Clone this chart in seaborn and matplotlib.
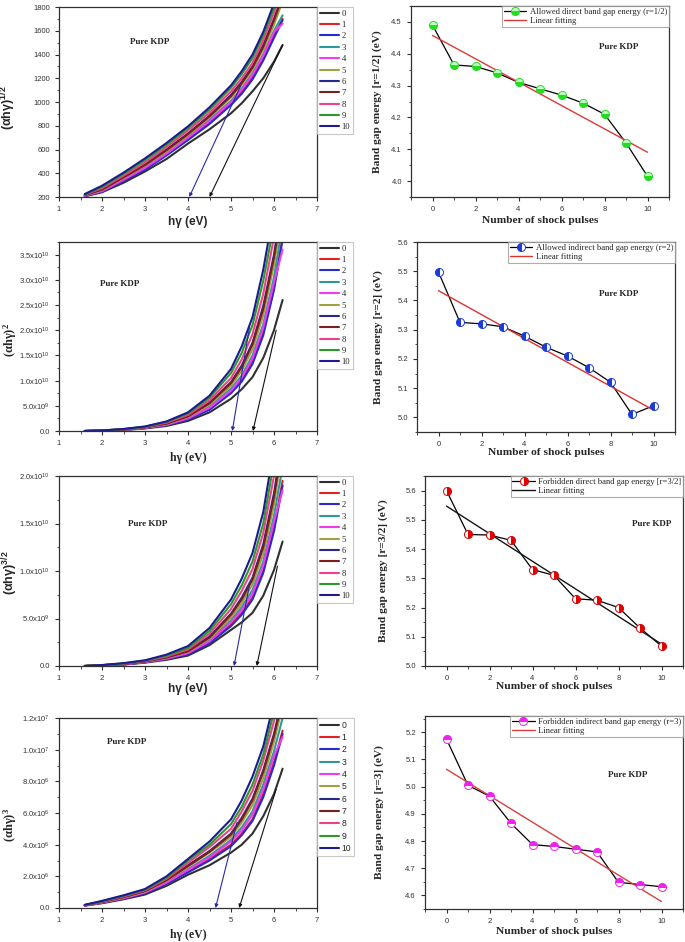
import numpy as np
import pandas as pd
import matplotlib
matplotlib.use("Agg")
import matplotlib.pyplot as plt
import seaborn as sns
from matplotlib.lines import Line2D
from matplotlib.ticker import MultipleLocator, FuncFormatter

sns.set_style("ticks")
plt.rcParams["font.family"] = ["Liberation Sans", "DejaVu Sans"]
plt.rcParams["mathtext.default"] = "regular"

SERIF = ["Liberation Serif", "DejaVu Serif"]
SANS = ["Liberation Sans", "DejaVu Sans"]

# ---------------- data: Tauc curves (left column) ----------------
hv = [1.6, 2.0, 2.5, 3.0, 3.5, 4.0, 4.5, 5.0, 5.25, 5.5, 5.75, 6.0, 6.2]
pulses = list(range(11))
curve_colors = ["#303030", "#e02424", "#2a2ad0", "#2a9a9a", "#f03cf0", "#a0a040",
                "#28288a", "#7a1e1e", "#f0408a", "#2a9a2a", "#1c1c90"]

# (alpha h nu)^(1/2)
curves_half = [
    [205, 240, 320, 415, 520, 650, 770, 905, 990, 1090, 1200, 1340, 1480],
    [210, 250, 340, 440, 560, 690, 830, 990, 1090, 1210, 1370, 1560, 1700],
    [208, 245, 335, 430, 550, 680, 815, 975, 1070, 1190, 1350, 1540, 1690],
    [212, 255, 350, 450, 570, 705, 850, 1010, 1115, 1240, 1400, 1600, 1730],
    [210, 250, 345, 445, 565, 700, 840, 1000, 1105, 1230, 1390, 1590, 1660],
    [215, 260, 360, 465, 585, 720, 870, 1040, 1145, 1270, 1440, 1650, 1850],
    [218, 265, 370, 475, 600, 735, 885, 1060, 1170, 1300, 1480, 1700, 1900],
    [216, 263, 365, 470, 595, 730, 880, 1050, 1160, 1290, 1465, 1690, 1890],
    [220, 275, 380, 490, 620, 760, 910, 1090, 1200, 1330, 1520, 1750, 1950],
    [222, 285, 395, 510, 640, 780, 935, 1120, 1235, 1370, 1560, 1790, 2000],
    [225, 295, 405, 525, 655, 795, 955, 1140, 1260, 1400, 1590, 1830, 2050],
]
# (alpha h nu)^2  (units 1e10)
curves_sq = [
    [0, 0.005, 0.02, 0.05, 0.10, 0.20, 0.37, 0.64, 0.83, 1.07, 1.45, 2.00, 2.60],
    [0, 0.006, 0.025, 0.06, 0.12, 0.24, 0.44, 0.78, 1.02, 1.38, 1.95, 2.85, 3.85],
    [0, 0.006, 0.024, 0.06, 0.12, 0.23, 0.42, 0.75, 0.98, 1.33, 1.90, 2.80, 3.80],
    [0, 0.007, 0.028, 0.065, 0.13, 0.26, 0.48, 0.84, 1.10, 1.50, 2.12, 3.05, 4.10],
    [0, 0.006, 0.026, 0.062, 0.125, 0.25, 0.46, 0.80, 1.06, 1.44, 2.05, 2.95, 3.60],
    [0, 0.007, 0.03, 0.07, 0.14, 0.28, 0.52, 0.90, 1.20, 1.62, 2.30, 3.30, 4.40],
    [0, 0.008, 0.032, 0.075, 0.15, 0.30, 0.56, 0.97, 1.30, 1.75, 2.48, 3.50, 4.60],
    [0, 0.008, 0.031, 0.073, 0.148, 0.29, 0.55, 0.95, 1.27, 1.72, 2.42, 3.45, 4.50],
    [0, 0.009, 0.035, 0.08, 0.165, 0.32, 0.61, 1.05, 1.42, 1.92, 2.72, 3.85, 5.00],
    [0, 0.01, 0.038, 0.085, 0.18, 0.35, 0.66, 1.15, 1.55, 2.10, 2.98, 4.10, 5.20],
    [0, 0.01, 0.04, 0.09, 0.19, 0.37, 0.70, 1.23, 1.68, 2.26, 3.20, 4.40, 5.50],
]
# (alpha h nu)^(3/2)  (units 1e10)
curves_3half = [
    [0, 0.005, 0.015, 0.035, 0.065, 0.11, 0.22, 0.38, 0.46, 0.56, 0.74, 1.01, 1.31],
    [0, 0.006, 0.018, 0.04, 0.075, 0.13, 0.25, 0.44, 0.56, 0.72, 1.00, 1.45, 1.95],
    [0, 0.006, 0.017, 0.039, 0.073, 0.125, 0.24, 0.42, 0.54, 0.70, 0.98, 1.42, 1.90],
    [0, 0.007, 0.02, 0.045, 0.082, 0.14, 0.27, 0.48, 0.62, 0.80, 1.10, 1.58, 2.10],
    [0, 0.006, 0.019, 0.042, 0.078, 0.135, 0.26, 0.46, 0.59, 0.76, 1.06, 1.52, 1.85],
    [0, 0.007, 0.021, 0.048, 0.088, 0.15, 0.29, 0.51, 0.66, 0.86, 1.18, 1.70, 2.30],
    [0, 0.008, 0.023, 0.05, 0.093, 0.16, 0.31, 0.55, 0.72, 0.93, 1.28, 1.82, 2.40],
    [0, 0.008, 0.022, 0.049, 0.09, 0.155, 0.30, 0.54, 0.70, 0.91, 1.25, 1.78, 2.35],
    [0, 0.009, 0.025, 0.054, 0.10, 0.175, 0.34, 0.60, 0.79, 1.02, 1.40, 2.00, 2.60],
    [0, 0.009, 0.027, 0.057, 0.11, 0.19, 0.37, 0.65, 0.85, 1.10, 1.50, 2.15, 2.75],
    [0, 0.01, 0.03, 0.06, 0.12, 0.21, 0.40, 0.70, 0.92, 1.19, 1.62, 2.30, 2.90],
]
# (alpha h nu)^3  (units 1e7)
curves_cube = [
    [0.015, 0.03, 0.055, 0.085, 0.14, 0.21, 0.27, 0.35, 0.40, 0.47, 0.58, 0.72, 0.88],
    [0.016, 0.034, 0.06, 0.095, 0.155, 0.23, 0.31, 0.40, 0.47, 0.56, 0.72, 0.92, 1.12],
    [0.016, 0.033, 0.059, 0.093, 0.152, 0.225, 0.30, 0.39, 0.46, 0.55, 0.70, 0.90, 1.10],
    [0.017, 0.036, 0.064, 0.10, 0.165, 0.245, 0.33, 0.43, 0.51, 0.61, 0.78, 0.99, 1.20],
    [0.016, 0.035, 0.062, 0.098, 0.16, 0.24, 0.32, 0.42, 0.49, 0.59, 0.75, 0.96, 1.08],
    [0.017, 0.038, 0.067, 0.104, 0.172, 0.26, 0.35, 0.45, 0.54, 0.65, 0.82, 1.05, 1.28],
    [0.018, 0.039, 0.07, 0.108, 0.178, 0.27, 0.36, 0.47, 0.57, 0.69, 0.87, 1.10, 1.33],
    [0.018, 0.039, 0.069, 0.107, 0.176, 0.265, 0.355, 0.465, 0.56, 0.68, 0.86, 1.09, 1.32],
    [0.019, 0.041, 0.073, 0.112, 0.185, 0.285, 0.385, 0.50, 0.61, 0.74, 0.93, 1.18, 1.42],
    [0.019, 0.043, 0.077, 0.116, 0.192, 0.30, 0.40, 0.53, 0.64, 0.78, 0.97, 1.24, 1.48],
    [0.02, 0.045, 0.08, 0.12, 0.20, 0.31, 0.42, 0.56, 0.68, 0.83, 1.02, 1.30, 1.55],
]

# ---------------- data: band gap vs shock pulses (right column) ----------------
shocks = list(range(11))
eg_direct_allowed = [4.49, 4.365, 4.36, 4.34, 4.31, 4.29, 4.27, 4.245, 4.21, 4.12, 4.015]
eg_indirect_allowed = [5.497, 5.325, 5.32, 5.31, 5.278, 5.24, 5.21, 5.17, 5.12, 5.01, 5.04]
eg_direct_forbidden = [5.60, 5.45, 5.448, 5.43, 5.33, 5.31, 5.23, 5.225, 5.20, 5.13, 5.068]
eg_indirect_forbidden = [5.175, 5.005, 4.965, 4.865, 4.787, 4.78, 4.77, 4.76, 4.648, 4.64, 4.632]

W, H = 685, 942
fig = plt.figure(figsize=(W / 100, H / 100), dpi=100)


def axes_px(x0, y0, x1, y1):
    return fig.add_axes([x0 / W, 1 - y1 / H, (x1 - x0) / W, (y1 - y0) / H])


def style_axes(ax):
    for s in ax.spines.values():
        s.set_visible(True)
        s.set_linewidth(0.9)
        s.set_color("#303030")
    ax.tick_params(which="both", direction="out", colors="#303030", labelsize=5.5,
                   labelcolor="#333333", top=False, right=False)
    ax.tick_params(which="major", length=3, width=0.8)
    ax.tick_params(which="minor", length=1.8, width=0.6)
    for lab in ax.get_xticklabels() + ax.get_yticklabels():
        lab.set_family(SANS)


def sci_fmt(v, pos):
    if abs(v) < 1e-9:
        return "0.0"
    e = int(np.floor(np.log10(abs(v)) + 1e-9))
    m = v / 10 ** e
    return f"{m:.1f}x10$^{{{e}}}$"


left_specs = [
    dict(box=(59, 7, 317, 197), curves=curves_half, scale=1.0, ylim=(200, 1800),
         major=200, minor=100, fmt=None,
         ylabel="(αhγ)$^{1/2}$", yfont=SANS, ylab_xy=(-0.159, 0.47),
         xfont=SANS, xlab_y=-0.10, kdp=(0.353, 0.816), legfont=SERIF,
         arrows=[((5.23, 1140), (4.03, 200), "#2a2aa0"), ((6.2, 1480), (4.5, 200), "#111111")]),
    dict(box=(59, 242, 317, 431), curves=curves_sq, scale=1e10, ylim=(0, 3.75e10),
         major=0.5e10, minor=0.25e10, fmt=FuncFormatter(sci_fmt),
         ylabel="(αhγ)$^{2}$", yfont=SERIF, ylab_xy=(-0.155, 0.48),
         xfont=SERIF, xlab_y=-0.111, kdp=(0.236, 0.78), legfont=SERIF,
         arrows=[((5.43, 2.06e10), (5.03, 0), "#2a2aa0"), ((6.05, 2.0e10), (5.51, 0), "#111111")]),
    dict(box=(59, 476, 317, 666), curves=curves_3half, scale=1e10, ylim=(0, 2.0e10),
         major=0.5e10, minor=0.25e10, fmt=FuncFormatter(sci_fmt),
         ylabel="(αhγ)$^{3/2}$", yfont=SANS, ylab_xy=(-0.15, 0.49),
         xfont=SANS, xlab_y=-0.088, kdp=(0.345, 0.75), legfont=SERIF,
         arrows=[((5.44, 0.88e10), (5.07, 0), "#2a2aa0"), ((6.08, 1.05e10), (5.6, 0), "#111111")]),
    dict(box=(59, 718, 317, 908), curves=curves_cube, scale=1e7, ylim=(0, 1.2e7),
         major=0.2e7, minor=0.1e7, fmt=FuncFormatter(sci_fmt),
         ylabel="(αhγ)$^{3}$", yfont=SERIF, ylab_xy=(-0.155, 0.44),
         xfont=SERIF, xlab_y=-0.11, kdp=(0.263, 0.874), legfont=SANS,
         arrows=[((5.14, 0.54e7), (4.64, 0), "#2a2aa0"), ((6.05, 0.75e7), (5.19, 0), "#111111")]),
]

for spec in left_specs:
    ax = axes_px(*spec["box"])
    rows = []
    for p, vals in zip(pulses, spec["curves"]):
        for x, v in zip(hv, vals):
            rows.append({"hv": x, "val": v * spec["scale"], "pulse": str(p)})
    df = pd.DataFrame(rows)
    sns.lineplot(data=df, x="hv", y="val", hue="pulse", hue_order=[str(p) for p in pulses],
                 palette=curve_colors, estimator=None, sort=False, lw=1.5, ax=ax, legend=False)
    ax.set_xlim(1, 7)
    ax.set_ylim(*spec["ylim"])
    ax.xaxis.set_major_locator(MultipleLocator(1))
    ax.xaxis.set_minor_locator(MultipleLocator(0.5))
    ax.yaxis.set_major_locator(MultipleLocator(spec["major"]))
    ax.yaxis.set_minor_locator(MultipleLocator(spec["minor"]))
    if spec["fmt"] is not None:
        ax.yaxis.set_major_formatter(spec["fmt"])
    style_axes(ax)
    ax.set_xlabel("hγ (eV)", family=spec["xfont"], fontweight="bold", fontsize=8.5)
    ax.xaxis.set_label_coords(0.5, spec["xlab_y"])
    ax.set_ylabel(spec["ylabel"], family=spec["yfont"], fontweight="bold", fontsize=9)
    ax.yaxis.set_label_coords(*spec["ylab_xy"])
    ax.text(*spec["kdp"], "Pure KDP", transform=ax.transAxes, family=SERIF,
            fontweight="bold", fontsize=6.5, ha="center", va="center")
    for (start, tip, col) in spec["arrows"]:
        ax.annotate("", xy=tip, xytext=start,
                    arrowprops=dict(arrowstyle="-|>", color=col, lw=0.8,
                                    mutation_scale=5, shrinkA=0, shrinkB=0))
    handles = [Line2D([], [], color=c, lw=1.5) for c in curve_colors]
    leg = ax.legend(handles, [str(p) for p in pulses], loc="upper left",
                    bbox_to_anchor=(1.0, 1.0), borderaxespad=0, frameon=True,
                    fancybox=False, handlelength=2.3, handletextpad=0.25,
                    labelspacing=0.39, borderpad=0.3,
                    prop={"family": spec["legfont"], "size": 6.2})
    leg.get_frame().set_edgecolor("#bbbbbb")
    leg.get_frame().set_linewidth(0.8)
    leg.set_clip_on(False)

right_specs = [
    dict(box=(411, 6, 669, 197), y=eg_direct_allowed, ylim=(3.95, 4.55), yticks=np.arange(4.0, 4.51, 0.1),
         minor=0.05, fill="bottom", mc="#22dd22", mcalt="#c8ffc8", fitc="#e03838",
         label="Allowed direct band gap energy (r=1/2)",
         ylabel="Band gap energy [r=1/2] (eV)", ylab_x=-0.114, xlab_y=-0.10, kdp=(0.806, 0.785)),
    dict(box=(417, 242, 675, 432), y=eg_indirect_allowed, ylim=(4.95, 5.6), yticks=np.arange(5.0, 5.61, 0.1),
         minor=0.05, fill="left", mc="#1c3cd8", mcalt="white", fitc="#e03030",
         label="Allowed indirect band gap energy (r=2)",
         ylabel="Band gap energy [r=2] (eV)", ylab_x=-0.13, xlab_y=-0.085, kdp=(0.783, 0.726)),
    dict(box=(425, 476, 683, 666), y=eg_direct_forbidden, ylim=(5.0, 5.65), yticks=np.arange(5.0, 5.61, 0.1),
         minor=0.05, fill="right", mc="#e00000", mcalt="white", fitc="#151515",
         label="Forbidden direct band gap energy [r=3/2]",
         ylabel="Band gap energy [r=3/2] (eV)", ylab_x=-0.145, xlab_y=-0.085, kdp=(0.88, 0.75)),
    dict(box=(425, 716, 683, 909), y=eg_indirect_forbidden, ylim=(4.55, 5.26), yticks=np.arange(4.6, 5.21, 0.1),
         minor=0.05, fill="top", mc="#ee22ee", mcalt="white", fitc="#d84040",
         label="Forbidden indirect band gap energy (r=3)",
         ylabel="Band gap energy [r=3] (eV)", ylab_x=-0.157, xlab_y=-0.093, kdp=(0.787, 0.694)),
]

for spec in right_specs:
    ax = axes_px(*spec["box"])
    df = pd.DataFrame({"n": shocks, "eg": spec["y"]})
    sns.lineplot(data=df, x="n", y="eg", color="black", lw=0.9, ax=ax, sort=False, estimator=None)
    sns.regplot(data=df, x="n", y="eg", scatter=False, ci=None, ax=ax,
                line_kws=dict(color=spec["fitc"], lw=1.0))
    mk = dict(marker="o", ms=5.8, fillstyle=spec["fill"], markerfacecolor=spec["mc"],
              markerfacecoloralt=spec["mcalt"], markeredgecolor=spec["mc"], mew=0.7)
    ax.plot(df["n"], df["eg"], ls="none", zorder=4, **mk)
    ax.set_xlim(-1, 11)
    ax.set_ylim(*spec["ylim"])
    ax.set_xticks(range(0, 11, 2))
    ax.xaxis.set_minor_locator(MultipleLocator(1))
    ax.set_yticks(spec["yticks"])
    ax.yaxis.set_major_formatter(FuncFormatter(lambda v, p: f"{v:.1f}"))
    ax.yaxis.set_minor_locator(MultipleLocator(spec["minor"]))
    style_axes(ax)
    ax.set_xlabel("Number of shock pulses", family=SERIF, fontweight="bold", fontsize=8.2)
    ax.xaxis.set_label_coords(0.5, spec["xlab_y"])
    ax.set_ylabel(spec["ylabel"], family=SERIF, fontweight="bold", fontsize=8.2)
    ax.yaxis.set_label_coords(spec["ylab_x"], 0.5)
    ax.text(*spec["kdp"], "Pure KDP", transform=ax.transAxes, family=SERIF,
            fontweight="bold", fontsize=6.5, ha="center", va="center")
    h1 = Line2D([], [], color="black", lw=0.9, **mk)
    h2 = Line2D([], [], color=spec["fitc"], lw=1.0)
    leg = ax.legend([h1, h2], [spec["label"], "Linear fitting"], loc="upper right",
                    bbox_to_anchor=(1.0, 1.0), borderaxespad=0, frameon=True, fancybox=False,
                    handlelength=2.6, handletextpad=0.4, labelspacing=0.15, borderpad=0.2,
                    prop={"family": SERIF, "size": 6.2})
    leg.get_frame().set_edgecolor("#999999")
    leg.get_frame().set_linewidth(0.8)

fig.savefig("out.png", dpi=100, facecolor="white")
